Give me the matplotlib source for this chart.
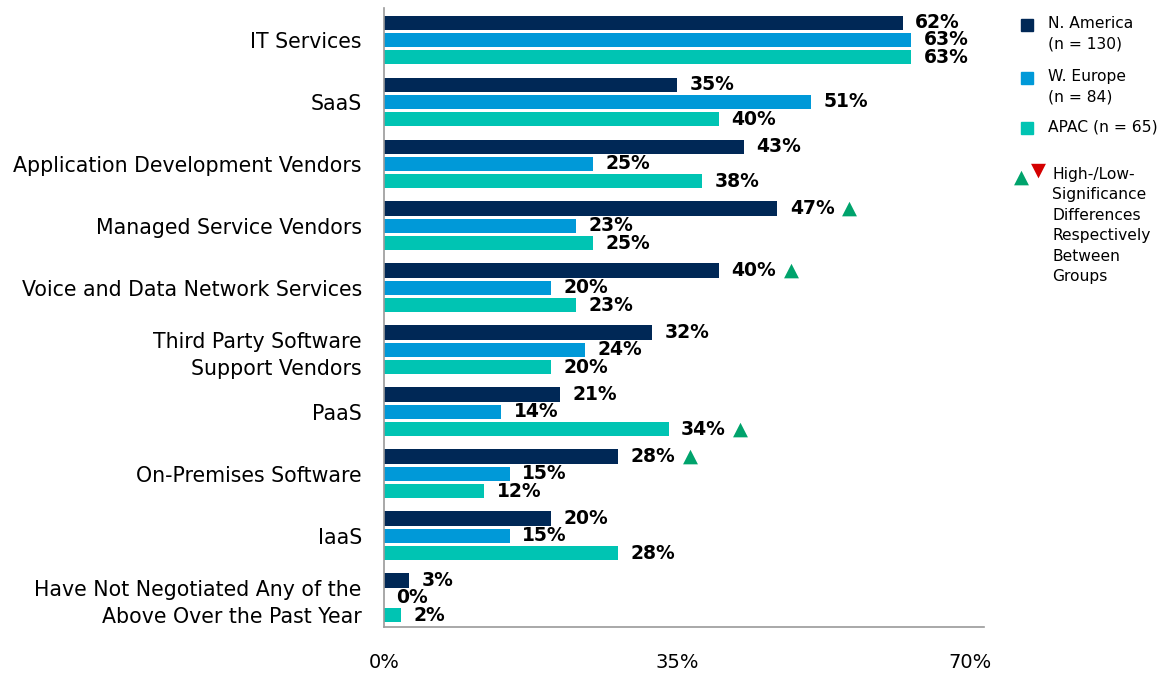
import matplotlib
matplotlib.use("Agg")
import matplotlib.pyplot as plt
import numpy as np

categories = [
    "IT Services",
    "SaaS",
    "Application Development Vendors",
    "Managed Service Vendors",
    "Voice and Data Network Services",
    "Third Party Software\nSupport Vendors",
    "PaaS",
    "On-Premises Software",
    "IaaS",
    "Have Not Negotiated Any of the\nAbove Over the Past Year",
]
n_america = [62, 35, 43, 47, 40, 32, 21, 28, 20, 3]
w_europe = [63, 51, 25, 23, 20, 24, 14, 15, 15, 0]
apac = [63, 40, 38, 25, 23, 20, 34, 12, 28, 2]
# (category index, series index) flagged as high-significance
high_sig = [(3, 0), (4, 0), (6, 2), (7, 0)]

series = [n_america, w_europe, apac]
colors = ["#002856", "#0099D8", "#00C4B3"]
green = "#00A36C"
red = "#D40000"

fig = plt.figure(figsize=(11.66, 6.73), dpi=100)
ax = fig.add_axes([384 / 1166, 46 / 673, 600 / 1166, 619 / 673])

y = np.arange(len(categories))
offs = [-0.282, 0.0, 0.282]
h = 0.226
for vals, off, c in zip(series, offs, colors):
    ax.barh(y + off, vals, height=h, color=c)
    for yi, v in zip(y, vals):
        ax.annotate(f"{v}%", (v, yi + off), xytext=(9, 0), textcoords="offset points",
                    ha="left", va="center", fontsize=13.5, fontweight="heavy", color="black")

for ci, si in high_sig:
    v = series[si][ci]
    ax.annotate("▲", (v, ci + offs[si]), xytext=(52, 0), textcoords="offset points",
                ha="center", va="center", fontsize=14, color=green)

ax.set_xlim(0, 71.7)
ax.set_ylim(9.468, -0.516)
ax.set_yticks(y)
ax.set_yticklabels(categories, fontsize=14.8, linespacing=1.42)
ax.set_xticks([0, 35, 70])
ax.set_xticklabels(["0%", "35%", "70%"], fontsize=14)
ax.tick_params(axis="both", length=0)
ax.tick_params(axis="x", pad=19)
ax.tick_params(axis="y", pad=16)
for s in ["top", "right"]:
    ax.spines[s].set_visible(False)
for s in ["left", "bottom"]:
    ax.spines[s].set_color("#9a9a9a")
    ax.spines[s].set_linewidth(1.2)

# legend drawn by hand
def fx(px):
    return px / 1166

def fy(py):
    return 1 - py / 673

leg = [("N. America\n(n = 130)", 25), ("W. Europe\n(n = 84)", 78), ("APAC (n = 65)", 128)]
for (txt, py), c in zip(leg, colors):
    fig.patches.append(plt.Rectangle((fx(1021), fy(py + 6)), 12 / 1166, 12 / 673,
                                     transform=fig.transFigure, color=c))
    fig.text(fx(1048), fy(py - 9), txt, fontsize=11.2, va="top", ha="left", linespacing=1.45)

fig.text(fx(1021), fy(177), "▲", color=green, fontsize=14, ha="center", va="center")
fig.text(fx(1038), fy(170), "▼", color=red, fontsize=14, ha="center", va="center")
fig.text(fx(1052), fy(167), "High-/Low-\nSignificance\nDifferences\nRespectively\nBetween\nGroups",
         fontsize=11.2, va="top", ha="left", linespacing=1.45)

fig.savefig("out.png", dpi=100)
